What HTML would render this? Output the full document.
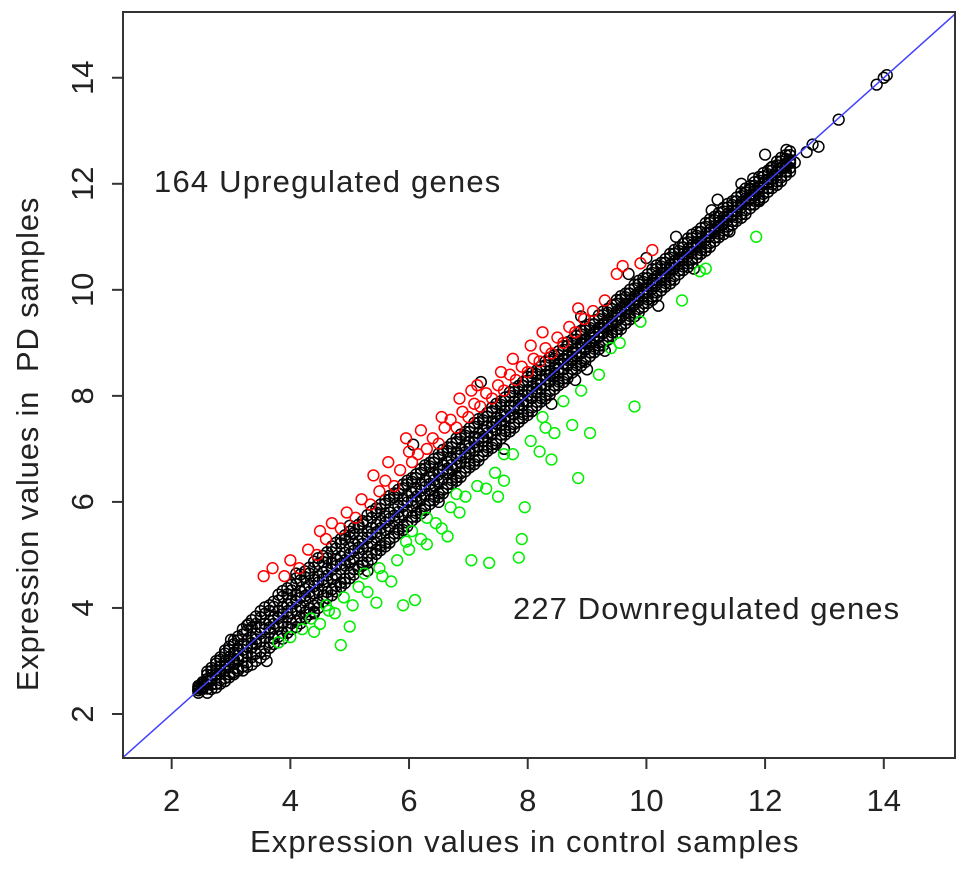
<!DOCTYPE html>
<html><head><meta charset="utf-8"><style>
html,body{margin:0;padding:0;background:#fff;}
svg{display:block;font-family:"Liberation Sans",sans-serif;}
</style></head><body>
<svg id="chart" width="969" height="874"></svg>
<script>
const xTicks=[2,4,6,8,10,12,14];
const yTicks=[2,4,6,8,10,12,14];
const bandX=[2.45,2.6,2.75,2.9,3.05,3.2,3.35,3.5,3.65,3.8,3.95,4.1,4.25,4.4,4.55,4.7,4.85,5.0,5.15,5.3,5.45,5.6,5.75,5.9,6.05,6.2,6.35,6.5,6.65,6.8,6.95,7.1,7.25,7.4,7.55,7.7,7.85,8.0,8.15,8.3,8.45,8.6,8.75,8.9,9.05,9.2,9.35,9.5,9.65,9.8,9.95,10.1,10.25,10.4,10.55,10.7,10.85,11.0,11.15,11.3,11.45,11.6,11.75,11.9,12.05,12.2,12.35];
const bandX2=[2.52,2.67,2.82,2.97,3.12,3.27,3.42,3.57,3.72,3.87,4.02,4.17,4.32,4.47,4.62,4.77,4.92,5.07,5.22,5.37,5.52,5.67,5.82,5.97,6.12,6.27,6.42,6.57,6.72,6.87,7.02,7.17,7.32,7.47,7.62,7.77,7.92,8.07,8.22,8.37,8.52,8.67,8.82,8.97,9.12,9.27,9.42,9.57,9.72,9.87,10.02,10.17,10.32,10.47,10.62,10.77,10.92,11.07,11.22,11.37,11.52,11.67,11.82,11.97,12.12,12.27,12.42];
const bandDevA=[-0.05,-0.12,-0.18,-0.22,-0.26,-0.3,-0.28,-0.32,-0.3,-0.34,-0.31,-0.35,-0.33,-0.36,-0.32,-0.35,-0.37,-0.34,-0.36,-0.33,-0.35,-0.37,-0.34,-0.36,-0.33,-0.35,-0.32,-0.34,-0.31,-0.33,-0.3,-0.32,-0.29,-0.31,-0.28,-0.3,-0.27,-0.29,-0.26,-0.28,-0.25,-0.27,-0.24,-0.26,-0.23,-0.25,-0.22,-0.24,-0.21,-0.23,-0.2,-0.22,-0.19,-0.21,-0.18,-0.2,-0.17,-0.19,-0.16,-0.18,-0.15,-0.17,-0.14,-0.16,-0.13,-0.15,-0.12];
const bandDevB=[0.0,-0.04,-0.06,-0.08,-0.1,-0.12,-0.1,-0.13,-0.11,-0.14,-0.12,-0.14,-0.11,-0.13,-0.12,-0.14,-0.12,-0.13,-0.11,-0.14,-0.12,-0.13,-0.11,-0.14,-0.12,-0.13,-0.11,-0.12,-0.1,-0.12,-0.11,-0.12,-0.1,-0.11,-0.1,-0.12,-0.1,-0.11,-0.09,-0.1,-0.09,-0.1,-0.08,-0.1,-0.08,-0.09,-0.07,-0.09,-0.07,-0.08,-0.06,-0.08,-0.06,-0.07,-0.05,-0.07,-0.05,-0.06,-0.05,-0.06,-0.04,-0.05,-0.04,-0.05,-0.03,-0.04,-0.03];
const bandDevC=[0.04,0.06,0.08,0.1,0.11,0.12,0.1,0.13,0.11,0.14,0.12,0.14,0.11,0.13,0.12,0.14,0.12,0.13,0.11,0.14,0.12,0.13,0.11,0.14,0.12,0.13,0.11,0.12,0.1,0.12,0.11,0.12,0.1,0.11,0.1,0.12,0.1,0.11,0.09,0.1,0.09,0.1,0.08,0.1,0.08,0.09,0.07,0.09,0.07,0.08,0.06,0.08,0.06,0.07,0.05,0.07,0.05,0.06,0.05,0.06,0.04,0.05,0.04,0.05,0.03,0.04,0.03];
const bandDevD=[0.08,0.14,0.2,0.24,0.27,0.3,0.28,0.32,0.3,0.34,0.31,0.35,0.33,0.36,0.32,0.35,0.37,0.34,0.36,0.33,0.35,0.37,0.34,0.36,0.33,0.35,0.32,0.34,0.31,0.33,0.3,0.32,0.29,0.31,0.28,0.3,0.27,0.29,0.26,0.28,0.25,0.27,0.24,0.26,0.23,0.25,0.22,0.24,0.21,0.23,0.2,0.22,0.19,0.21,0.18,0.2,0.17,0.19,0.16,0.18,0.15,0.17,0.14,0.16,0.13,0.15,0.12];
const bandDevE=[0.0,-0.2,-0.25,-0.28,-0.3,-0.38,-0.42,-0.44,-0.4,-0.45,-0.42,-0.46,-0.44,-0.47,-0.43,-0.46,-0.45,-0.44,-0.42,-0.45,-0.43,-0.44,-0.41,-0.43,-0.4,-0.42,-0.39,-0.41,-0.38,-0.4,-0.37,-0.39,-0.36,-0.38,-0.35,-0.37,-0.34,-0.36,-0.33,-0.35,-0.32,-0.34,-0.31,-0.33,-0.3,-0.32,-0.29,-0.31,-0.28,-0.3,-0.27,-0.29,-0.26,-0.28,-0.25,-0.27,-0.24,-0.26,-0.23,-0.25,-0.22,-0.24,-0.21,-0.23,-0.2,-0.22,-0.19];
const bandDevF=[0.05,0.2,0.25,0.3,0.34,0.4,0.42,0.44,0.4,0.45,0.42,0.46,0.44,0.47,0.43,0.46,0.45,0.44,0.42,0.45,0.43,0.44,0.41,0.43,0.4,0.42,0.39,0.41,0.38,0.4,0.37,0.39,0.36,0.38,0.35,0.37,0.34,0.36,0.33,0.35,0.32,0.34,0.31,0.33,0.3,0.32,0.29,0.31,0.28,0.3,0.27,0.29,0.26,0.28,0.25,0.27,0.24,0.26,0.23,0.25,0.22,0.24,0.21,0.23,0.2,0.22,0.19];
const bandDevZ=[0.0,0.01,-0.01,0.02,-0.02,0.01,-0.01,0.02,-0.02,0.01,-0.01,0.02,-0.02,0.01,-0.01,0.02,-0.02,0.01,-0.01,0.02,-0.02,0.01,-0.01,0.02,-0.02,0.01,-0.01,0.02,-0.02,0.01,-0.01,0.02,-0.02,0.01,-0.01,0.02,-0.02,0.01,-0.01,0.02,-0.02,0.01,-0.01,0.02,-0.02,0.01,-0.01,0.02,-0.02,0.01,-0.01,0.02,-0.02,0.01,-0.01,0.02,-0.02,0.01,-0.01,0.02,-0.02,0.01,-0.01,0.02,-0.02,0.01,0.0];
const blackExtra=[[2.45,2.45],[2.5,2.48],[3.0,3.4],[3.3,3.7],[3.6,3.0],[4.1,4.65],[4.4,3.9],[5.0,5.55],[5.3,4.7],[6.07,7.08],[6.5,6.0],[7.21,8.26],[7.6,7.0],[8.4,7.85],[8.9,9.5],[9.3,8.85],[9.7,10.3],[10.2,9.7],[10.5,11.0],[10.8,10.4],[11.1,11.5],[11.4,11.1],[11.6,12.0],[11.9,11.7],[12.1,12.3],[12.36,12.64],[12.5,12.4],[12.7,12.6],[12.8,12.74],[12.9,12.7],[13.24,13.21],[13.88,13.87],[14.0,14.0],[14.05,14.05],[12.0,12.55],[11.8,12.1],[11.2,11.7],[10.0,10.6],[9.0,8.5],[8.8,8.3]];
const redPts=[[3.55,4.6],[3.7,4.75],[3.9,4.6],[4.0,4.9],[4.15,4.75],[4.3,5.1],[4.45,5.0],[4.6,5.3],[4.7,5.6],[4.85,5.5],[4.95,5.8],[5.1,5.7],[5.2,6.05],[5.35,5.95],[5.5,6.2],[5.6,6.4],[5.75,6.3],[5.85,6.6],[5.95,7.2],[6.05,6.75],[6.15,6.9],[6.3,7.0],[6.4,7.2],[6.5,7.1],[6.6,7.4],[6.7,7.55],[6.8,7.4],[6.9,7.7],[7.0,7.6],[7.1,7.85],[7.2,7.8],[7.3,8.05],[7.4,7.95],[7.5,8.2],[7.6,8.1],[7.7,8.4],[7.8,8.3],[7.9,8.55],[8.0,8.45],[8.1,8.7],[8.2,8.65],[8.3,8.9],[8.4,8.8],[8.5,9.1],[8.6,9.0],[8.7,9.3],[8.8,9.2],[8.95,9.45],[9.1,9.6],[9.3,9.8],[9.5,10.3],[9.6,10.45],[9.9,10.5],[10.1,10.75],[5.4,6.5],[6.2,7.35],[7.05,8.1],[7.55,8.45],[8.05,8.95],[4.5,5.45],[6.0,6.95],[6.55,7.6],[7.15,8.2],[7.75,8.7],[8.25,9.2],[8.85,9.65],[5.65,6.75],[6.85,7.95]];
const greenPts=[[3.8,3.35],[4.0,3.45],[4.2,3.6],[4.35,3.8],[4.5,3.7],[4.6,4.05],[4.75,3.9],[4.85,3.3],[4.9,4.2],[5.05,4.05],[5.15,4.4],[5.3,4.3],[5.45,4.1],[5.55,4.6],[5.7,4.5],[5.8,4.9],[5.9,4.05],[6.0,5.1],[6.1,4.15],[6.2,5.3],[6.3,5.2],[6.45,5.6],[6.55,5.5],[6.7,5.9],[6.85,5.8],[6.95,6.1],[7.05,4.9],[7.15,6.3],[7.3,6.25],[7.35,4.85],[7.45,6.55],[7.6,6.4],[7.75,6.9],[7.85,4.95],[7.9,5.3],[7.95,5.9],[8.05,7.15],[8.2,6.95],[8.3,7.4],[8.45,7.3],[8.6,7.9],[8.75,7.45],[8.85,6.45],[8.9,8.1],[9.05,7.3],[9.2,8.4],[9.4,8.9],[9.55,9.0],[9.8,7.8],[9.9,9.4],[10.6,9.8],[10.9,10.35],[11.0,10.4],[11.85,11.0],[5.5,4.75],[6.3,5.7],[6.65,5.35],[7.5,6.1],[8.4,6.8],[5.0,3.65],[4.4,3.55],[5.25,4.65],[6.05,5.45],[6.8,6.15],[7.6,6.9],[8.25,7.6],[5.95,5.25],[4.65,3.95]];

const NS="http://www.w3.org/2000/svg";
const svg=document.getElementById('chart');
const L=123,R=955,T=12,B=758;
const X0=1.18,X1=15.2,Y0=1.17,Y1=15.24;
function sx(v){return L+(v-X0)/(X1-X0)*(R-L);}
function sy(v){return B-(v-Y0)/(Y1-Y0)*(B-T);}
function mk(tag,attrs,parent){const e=document.createElementNS(NS,tag);for(const k in attrs)e.setAttribute(k,attrs[k]);(parent||svg).appendChild(e);return e;}

const pts=mk('g',{});


function dot(x,y,col,name){
  const c=mk('circle',{cx:sx(x),cy:sy(y),r:5.4,fill:'none',stroke:col,'stroke-width':1.5},pts);
  
  
}
[bandDevE,bandDevF,bandDevA,bandDevB,bandDevC,bandDevD,bandDevZ].forEach(dev=>{
  bandX.forEach((x,i)=>dot(x,x+dev[i],'#000','black-point'));
  bandX2.forEach((x,i)=>dot(x,x+dev[i],'#000','black-point'));
});
blackExtra.forEach(p=>dot(p[0],p[1],'#000','black-point'));
redPts.forEach(p=>dot(p[0],p[1],'#ff0000','red-point'));
greenPts.forEach(p=>dot(p[0],p[1],'#00ee00','green-point'));

const lo=Math.max(X0,Y0),hi=Math.min(X1,Y1);
const diag=mk('line',{x1:sx(lo),y1:sy(lo),x2:sx(hi),y2:sy(hi),stroke:'#4040ff','stroke-width':1.5});



const frame=mk('rect',{x:L,y:T,width:R-L,height:B-T,fill:'none',stroke:'#333','stroke-width':2});



xTicks.forEach(t=>{
  const l=mk('line',{x1:sx(t),x2:sx(t),y1:B,y2:B+11,stroke:'#333','stroke-width':2});
  
  
  const tx=mk('text',{x:sx(t),y:B+53,'font-size':31,'text-anchor':'middle',fill:'#222'});
  tx.textContent=t;
  
  
});
yTicks.forEach(t=>{
  const l=mk('line',{x1:L-11,x2:L,y1:sy(t),y2:sy(t),stroke:'#333','stroke-width':2});
  
  
  const tx=mk('text',{x:0,y:0,'font-size':31,'text-anchor':'middle',fill:'#222',transform:`translate(${L-30},${sy(t)}) rotate(-90)`});
  tx.textContent=t;
  
  
});
</script>
<div style="position:absolute;left:0;top:0;width:969px;height:874px;pointer-events:none;font-family:'Liberation Sans',sans-serif;color:#222;">
  <div style="position:absolute;left:250px;top:824px;font-size:31px;letter-spacing:1.1px;white-space:nowrap;">Expression values in control samples</div>
  <div style="position:absolute;left:28px;top:444px;width:700px;text-align:center;font-size:31px;letter-spacing:0.8px;white-space:nowrap;transform:translate(-50%,-50%) rotate(-90deg);">Expression values in&nbsp; PD samples</div>
  <div style="position:absolute;left:154px;top:164px;font-size:31px;letter-spacing:1.2px;white-space:nowrap;">164 Upregulated genes</div>
  <div style="position:absolute;left:513px;top:591px;font-size:31px;letter-spacing:1.1px;white-space:nowrap;">227 Downregulated genes</div>
</div>
</body></html>
